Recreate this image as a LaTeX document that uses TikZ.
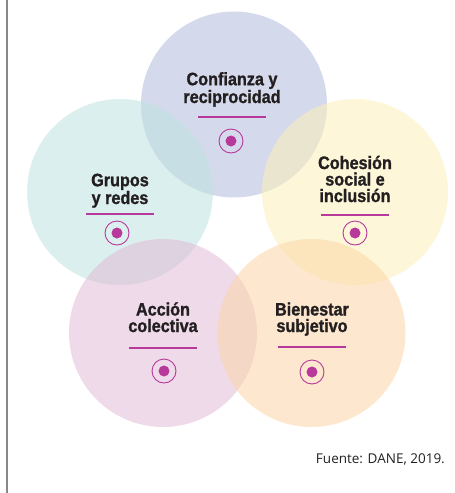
\documentclass[tikz,border=0pt]{standalone}
\usepackage{fontspec}
\setmainfont{Liberation Sans}
\newfontfamily\lblfont[FakeStretch=0.9,FakeBold=1.2]{Liberation Sans}
\newfontfamily\srcfont{Open Sans}
\definecolor{cTop}{RGB}{179,186,220}
\definecolor{cLeft}{RGB}{190,226,224}
\definecolor{cRight}{RGB}{251,239,184}
\definecolor{cBL}{RGB}{224,188,215}
\definecolor{cBR}{RGB}{251,213,168}
\definecolor{mag}{RGB}{183,58,155}
\definecolor{ink}{RGB}{35,31,32}
\definecolor{rule}{RGB}{140,135,130}
\tikzset{
  bubble/.style={fill opacity=0.55, draw=none},
  lbl/.style={align=center, text=ink, font=\lblfont\fontsize{18}{16.5}\selectfont\bfseries, inner sep=0pt, anchor=base},
  uline/.style={draw=mag, line width=1.1pt},
  ring/.style={circle, draw=mag, line width=0.9pt, minimum size=24pt, inner sep=0pt},
  dot/.style={circle, fill=mag, minimum size=11pt, inner sep=0pt},
}
\begin{document}
\begin{tikzpicture}[x=1pt,y=-1pt]
\useasboundingbox (0,0) rectangle (455,493);
\draw[rule, line width=1.2pt] (7,0) -- (7,493);
% circles
\fill[cTop, bubble] (234,104.5) circle (93);
\fill[cLeft, bubble] (120,192) circle (93);
\fill[cRight, bubble] (355,192) circle (93);
\fill[cBL, bubble] (163,333) circle (94);
\fill[cBR, bubble] (311.5,333) circle (94);
% labels (base = baseline of last line)
\node[lbl] (t1) at (232,103) {Confianza y\\reciprocidad};
\node[lbl] (t2) at (120,204) {Grupos\\y redes};
\node[lbl] (t3) at (355,202) {Cohesión\\social e\\inclusión};
\node[lbl] (t4) at (163,332) {Acción\\colectiva};
\node[lbl] (t5) at (312,332) {Bienestar\\subjetivo};
% underlines
\draw[uline] (198,117) -- (266,117);
\draw[uline] (86,214) -- (154,214);
\draw[uline] (321,215) -- (389,215);
\draw[uline] (129,348) -- (197,348);
\draw[uline] (278,347) -- (346,347);
% icons
\foreach \n/\x/\y in {i1/231/141, i2/117/233, i3/355/233, i4/164/371, i5/312/372}{
  \node[ring] (\n) at (\x,\y) {};
  \node[dot] at (\n) {};
}
\node[anchor=base east, text=ink, font=\srcfont\fontsize{13.5}{15}\selectfont, inner sep=0pt] (src) at (445,463) {Fuente: DANE, 2019.};
\end{tikzpicture}
\end{document}
